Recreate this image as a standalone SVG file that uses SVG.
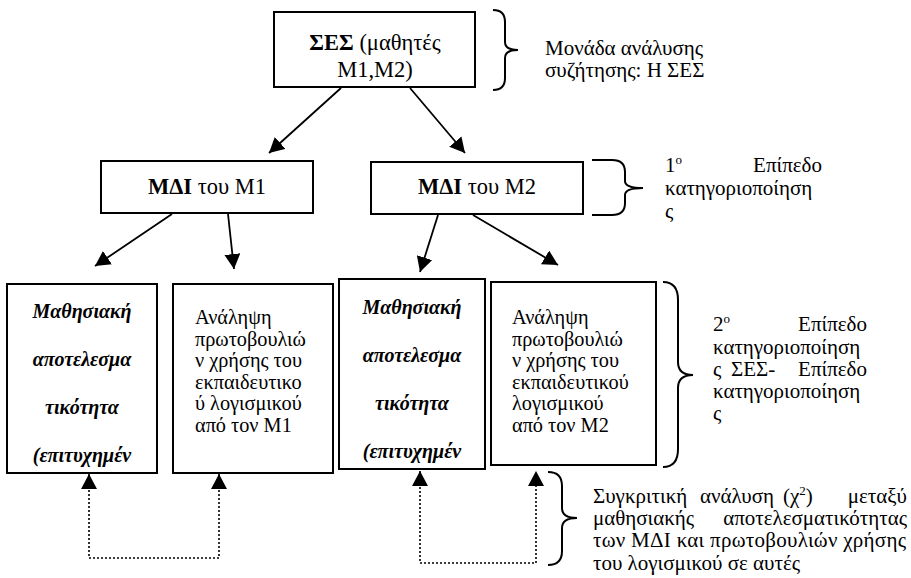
<svg xmlns="http://www.w3.org/2000/svg" width="911" height="578" viewBox="0 0 911 578">
<style>
text{font-family:"Liberation Serif","DejaVu Serif",serif;font-size:21px;fill:#000}
.big{font-size:22.5px}
.bx{font-size:20.3px}
.b{font-weight:bold}
.bi{font-weight:bold;font-style:italic;font-size:20px}
.c{text-anchor:middle}
.e{text-anchor:end}
.box{fill:#fff;stroke:#000;stroke-width:2}
.br{fill:none;stroke:#000;stroke-width:2}
.ar{fill:none;stroke:#000;stroke-width:1.8}
.dot{fill:none;stroke:#000;stroke-width:1.6;stroke-dasharray:2 2}
</style>
<defs>
<marker id="ah" markerUnits="userSpaceOnUse" markerWidth="16" markerHeight="16" refX="15" refY="8" orient="auto-start-reverse" viewBox="0 0 16 16">
<path d="M0,0 L15,8 L0,16 z" fill="#000"/>
</marker>
</defs>

<g id="connectors">
<line class="ar" x1="341" y1="88" x2="269" y2="153" marker-end="url(#ah)"/>
<line class="ar" x1="410" y1="88" x2="465" y2="153" marker-end="url(#ah)"/>
<line class="ar" x1="172" y1="214" x2="95" y2="266" marker-end="url(#ah)"/>
<line class="ar" x1="228" y1="214" x2="234" y2="269" marker-end="url(#ah)"/>
<line class="ar" x1="438" y1="215" x2="420" y2="272" marker-end="url(#ah)"/>
<line class="ar" x1="473" y1="215" x2="558" y2="265" marker-end="url(#ah)"/>
<path class="dot" d="M89,474 L89,558 L219,558 L219,474" marker-start="url(#ah)" marker-end="url(#ah)"/>
<path class="dot" d="M420,471 L420,563 L536,563 L536,471" marker-start="url(#ah)" marker-end="url(#ah)"/>
</g>

<g id="n-ses">
<rect class="box" x="274" y="12" width="201" height="75"/>
<text class="c big" x="375" y="50"><tspan class="b">ΣΕΣ</tspan> (μαθητές</text>
<text class="c big" x="375" y="77">Μ1,Μ2)</text>
</g>

<g id="n-mdi1">
<rect class="box" x="101" y="161" width="212" height="52"/>
<text class="c big" x="207" y="194"><tspan class="b">ΜΔΙ</tspan> του Μ1</text>
</g>

<g id="n-mdi2">
<rect class="box" x="371" y="162" width="212" height="52"/>
<text class="c big" x="477" y="194"><tspan class="b">ΜΔΙ</tspan> του Μ2</text>
</g>

<g id="n-eff1">
<rect class="box" x="7" y="284" width="150" height="189"/>
<text class="bi c" x="82" y="318">Μαθησιακή</text>
<text class="bi c" x="82" y="366">αποτελεσμα</text>
<text class="bi c" x="82" y="414">τικότητα</text>
<text class="bi c" x="82" y="462">(επιτυχημέν</text>
</g>

<g id="n-init1">
<rect class="box" x="173" y="284" width="160" height="189"/>
<text class="bx" x="195" y="324">Ανάληψη</text>
<text class="bx" x="195" y="345.6">πρωτοβουλιώ</text>
<text class="bx" x="195" y="367.2">ν χρήσης του</text>
<text class="bx" x="195" y="388.8">εκπαιδευτικο</text>
<text class="bx" x="195" y="410.4">ύ λογισμικού</text>
<text class="bx" x="195" y="432">από τον Μ1</text>
</g>

<g id="n-eff2">
<rect class="box" x="339" y="279" width="146" height="190"/>
<text class="bi c" x="412" y="314">Μαθησιακή</text>
<text class="bi c" x="412" y="362">αποτελεσμα</text>
<text class="bi c" x="412" y="410">τικότητα</text>
<text class="bi c" x="412" y="458">(επιτυχημέν</text>
</g>

<g id="n-init2">
<rect class="box" x="491" y="282" width="165" height="183"/>
<text class="bx" x="512" y="324">Ανάληψη</text>
<text class="bx" x="512" y="345.6">πρωτοβουλιώ</text>
<text class="bx" x="512" y="367.2">ν χρήσης του</text>
<text class="bx" x="512" y="388.8">εκπαιδευτικού</text>
<text class="bx" x="512" y="410.4">λογισμικού</text>
<text class="bx" x="512" y="432">από τον Μ2</text>
</g>

<g id="note-unit">
<path class="br" d="M493,10 Q505,10 505,22 L505,42 Q505,50 518,50 Q505,50 505,58 L505,78 Q505,90 493,90"/>
<text x="545" y="55">Μονάδα ανάλυσης</text>
<text x="545" y="77">συζήτησης: Η ΣΕΣ</text>
</g>

<g id="note-level1">
<path class="br" d="M592,160 L612,160 Q625,160 625,172 L625,181 Q625,188 643,188 Q625,188 625,195 L625,203 Q625,215 612,215 L592,215"/>
<text x="665" y="172">1<tspan font-size="13" dy="-8">ο</tspan></text>
<text class="e" x="822" y="172">Επίπεδο</text>
<text x="665" y="195">κατηγοριοποίηση</text>
<text x="665" y="218">ς</text>
</g>

<g id="note-level2">
<path class="br" d="M663,282 Q678,282 678,300 L678,362 Q678,375 693,375 Q678,375 678,388 L678,449 Q678,467 663,467"/>
<text x="713" y="331">2<tspan font-size="13" dy="-8">ο</tspan></text>
<text class="e" x="867" y="331">Επίπεδο</text>
<text x="713" y="353.5">κατηγοριοποίηση</text>
<text x="713" y="376">ς</text>
<text x="731" y="376">ΣΕΣ-</text>
<text class="e" x="867" y="376">Επίπεδο</text>
<text x="713" y="398">κατηγοριοποίηση</text>
<text x="713" y="420">ς</text>
</g>

<g id="note-compare">
<path class="br" d="M548,472 Q562,472 562,486 L562,508 Q562,518 577,518 Q562,518 562,528 L562,551 Q562,565 548,565"/>
<text x="593" y="503">Συγκριτική</text>
<text x="700" y="503">ανάλυση</text>
<text x="783" y="503">(χ<tspan font-size="13" dy="-8">2</tspan><tspan dy="8">)</tspan></text>
<text class="e" x="907" y="503">μεταξύ</text>
<text x="593" y="525">μαθησιακής</text>
<text class="e" x="907" y="525">αποτελεσματικότητας</text>
<text x="593" y="547" textLength="313" lengthAdjust="spacing">των ΜΔΙ και πρωτοβουλιών χρήσης</text>
<text x="593" y="570">του λογισμικού σε αυτές</text>
</g>
</svg>
